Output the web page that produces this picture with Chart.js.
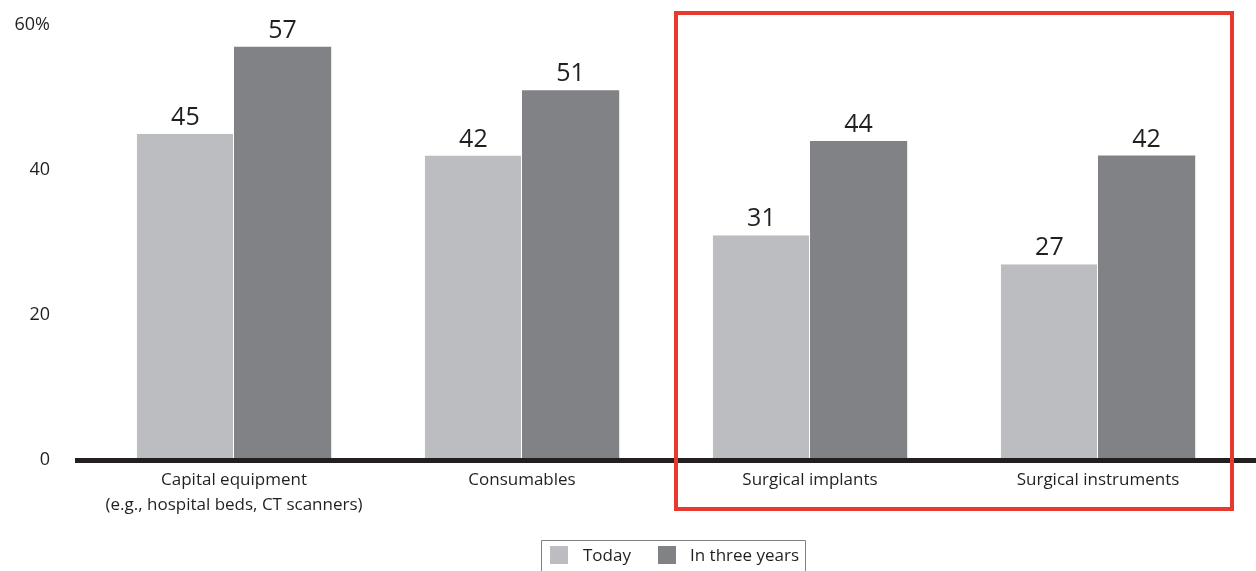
<!DOCTYPE html>
<html><head><meta charset="utf-8">
<script src="https://cdn.jsdelivr.net/npm/chart.js@4/dist/chart.umd.min.js"></script>
<style>html,body{margin:0;padding:0;background:#fff}#wrap{width:1256px;height:571px;position:relative}</style>
</head><body><div id="wrap"><canvas id="c" width="1256" height="571"></canvas></div>
<script>
const categories = [["Capital equipment","(e.g., hospital beds, CT scanners)"],"Consumables","Surgical implants","Surgical instruments"];
const seriesNames = ["Today","In three years"];
const todayValues = [45,42,31,27];
const threeYearValues = [57,51,44,42];
const yTicks = [0,20,40,60];
const seriesColors = ["#bcbdc0","#808285"];
const FONT = "'Open Sans', 'Noto Sans', sans-serif";
const TEXT = "#231f20";

const overlay = {
  id:'overlay',
  afterDatasetsDraw(chart){
    const ctx = chart.ctx, x = chart.scales.x, y = chart.scales.y;
    ctx.save();
    ctx.font = "25px " + FONT; ctx.fillStyle = TEXT; ctx.textAlign='center'; ctx.textBaseline='alphabetic';
    chart.data.datasets.forEach((ds,i)=>{
      chart.getDatasetMeta(i).data.forEach((bar,j)=>{
        ctx.fillText(String(ds.data[j]), bar.x, bar.y - 9);
      });
    });
    const z = y.getPixelForValue(0);
    ctx.fillStyle = "#231f20";
    ctx.fillRect(75, z - 2, 1256-75, 5);
    const step = x.getPixelForValue(1) - x.getPixelForValue(0);
    const l = x.getPixelForValue(2) - step/2 + 10, r = x.getPixelForValue(3) + step/2 - 10;
    ctx.strokeStyle = "#e8392f"; ctx.lineWidth = 4;
    ctx.strokeRect(l, 13, r - l, 496);
    ctx.strokeStyle = "#808080"; ctx.lineWidth = 1;
    ctx.beginPath(); ctx.moveTo(541.5, 575); ctx.lineTo(541.5,540.5); ctx.lineTo(805.5,540.5); ctx.lineTo(805.5,575); ctx.stroke();
    ctx.font = "17px " + FONT; ctx.textAlign='left'; ctx.textBaseline='middle';
    const lx = [550, 658], tx = [583, 690];
    chart.data.datasets.forEach((ds,i)=>{
      ctx.fillStyle = ds.backgroundColor; ctx.fillRect(lx[i], 546, 18, 18);
      ctx.fillStyle = TEXT; ctx.fillText(ds.label, tx[i], 556);
    });
    ctx.restore();
  }
};

new Chart(document.getElementById('c'), {
  type:'bar',
  data:{ labels: categories, datasets:[
    {label:seriesNames[0], data:todayValues, backgroundColor:seriesColors[0], borderColor:'#ffffff', borderWidth:{right:1,left:0,top:0,bottom:0}, borderSkipped:false, categoryPercentage:0.675, barPercentage:1.0},
    {label:seriesNames[1], data:threeYearValues, backgroundColor:seriesColors[1], borderWidth:0, categoryPercentage:0.675, barPercentage:1.0}
  ]},
  options:{
    responsive:false, animation:false,
    layout:{padding:{left:0,right:14,top:25,bottom:0}},
    plugins:{legend:{display:false}, tooltip:{enabled:false}},
    scales:{
      x:{ grid:{display:false, drawTicks:false}, border:{display:false},
          ticks:{color:TEXT, font:{family:FONT,size:17,lineHeight:1.45}, padding:8, maxRotation:0, autoSkip:false},
          afterFit(s){ s.height = 111; s.paddingLeft = 0; s.paddingRight = 0; } },
      y:{ min:0, max:60, grid:{display:false, drawTicks:false}, border:{display:false},
          afterBuildTicks(s){ s.ticks = yTicks.map(v=>({value:v})); },
          ticks:{color:TEXT, font:{family:FONT,size:18}, padding:40, callback:(v)=> v===60 ? v+'%' : String(v)},
          afterFit(s){ s.width = 90; s.paddingTop = 0; s.paddingBottom = 0; } }
    }
  },
  plugins:[overlay]
});
</script></body></html>
